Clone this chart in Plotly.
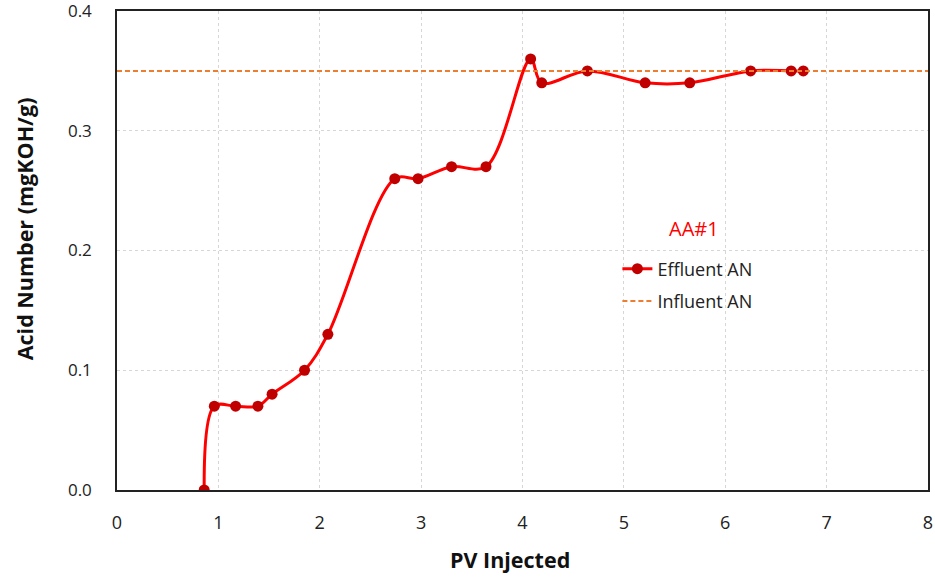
import plotly.graph_objects as go

# Effluent acid number vs pore volumes injected
pv_injected = [0.86, 0.96, 1.17, 1.39, 1.53, 1.85, 2.08, 2.74, 2.97, 3.30, 3.64,
               4.08, 4.19, 4.64, 5.21, 5.65, 6.25, 6.65, 6.77]
effluent_an = [0.00, 0.07, 0.07, 0.07, 0.08, 0.10, 0.13, 0.26, 0.26, 0.27, 0.27,
               0.36, 0.34, 0.35, 0.34, 0.34, 0.35, 0.35, 0.35]

# Influent acid number (constant)
influent_x = [0, 8]
influent_an = [0.35, 0.35]

x_ticks = [0, 1, 2, 3, 4, 5, 6, 7, 8]
y_ticks = [0.0, 0.1, 0.2, 0.3, 0.4]

FONT = "Open Sans, Lato, sans-serif"
GRID = "#D6D6D6"
TITLE_FONT = dict(size=21.5, family=FONT, weight="bold", color="#111111")

fig = go.Figure()
fig.add_trace(go.Scatter(
    x=pv_injected, y=effluent_an, name="Effluent AN", legendgroup="eff",
    mode="lines+markers",
    line=dict(color="#FF0000", width=3, shape="spline", smoothing=1.0),
    marker=dict(color="#C00000", size=11),
))
fig.add_trace(go.Scatter(
    x=influent_x, y=influent_an, name="Influent AN", legendgroup="inf",
    mode="lines",
    line=dict(color="#ED7D31", width=2, dash="5px,3px"),
))

fig.update_layout(
    width=935, height=577,
    margin=dict(l=117, r=7, t=11, b=87),
    paper_bgcolor="white", plot_bgcolor="white",
    font=dict(family=FONT, size=16, color="#222222"),
    legend=dict(
        x=0.617, y=0.50, xanchor="left", yanchor="top",
        bgcolor="rgba(0,0,0,0)", font=dict(size=18, color="#222222"),
        tracegroupgap=6,
    ),
    showlegend=True,
    annotations=[
        # legend heading
        dict(text="AA#1", xref="paper", yref="paper", x=0.711, y=0.546,
             xanchor="center", yanchor="middle", showarrow=False,
             font=dict(color="#FF0000", size=20, family=FONT)),
        # axis titles
        dict(text="PV Injected", xref="paper", yref="paper", x=0.4846, y=-0.146,
             xanchor="center", yanchor="middle", showarrow=False, font=TITLE_FONT),
        dict(text="Acid Number (mgKOH/g)", xref="paper", yref="paper", x=-0.113, y=0.545,
             xanchor="center", yanchor="middle", showarrow=False, textangle=-90,
             font=TITLE_FONT),
    ],
)
fig.update_xaxes(
    range=[0, 8], tickvals=x_ticks, ticktext=[str(v) for v in x_ticks],
    showline=True, linecolor="#222222", linewidth=1.5, mirror=True,
    showgrid=True, gridcolor=GRID, griddash="3px,3px", gridwidth=1,
    zeroline=False, ticks="", ticklabelstandoff=16, automargin=False,
    ticklabeloverflow="allow", tickfont=dict(size=18),
)
fig.update_yaxes(
    range=[0, 0.40001], tickvals=y_ticks, ticktext=[f"{v:.1f}" for v in y_ticks],
    showline=True, linecolor="#222222", linewidth=1.5, mirror=True,
    showgrid=True, gridcolor=GRID, griddash="3px,3px", gridwidth=1,
    zeroline=False, ticks="", ticklabelstandoff=20, automargin=False,
    ticklabeloverflow="allow", tickfont=dict(size=17),
)

fig.write_html("out.html")
